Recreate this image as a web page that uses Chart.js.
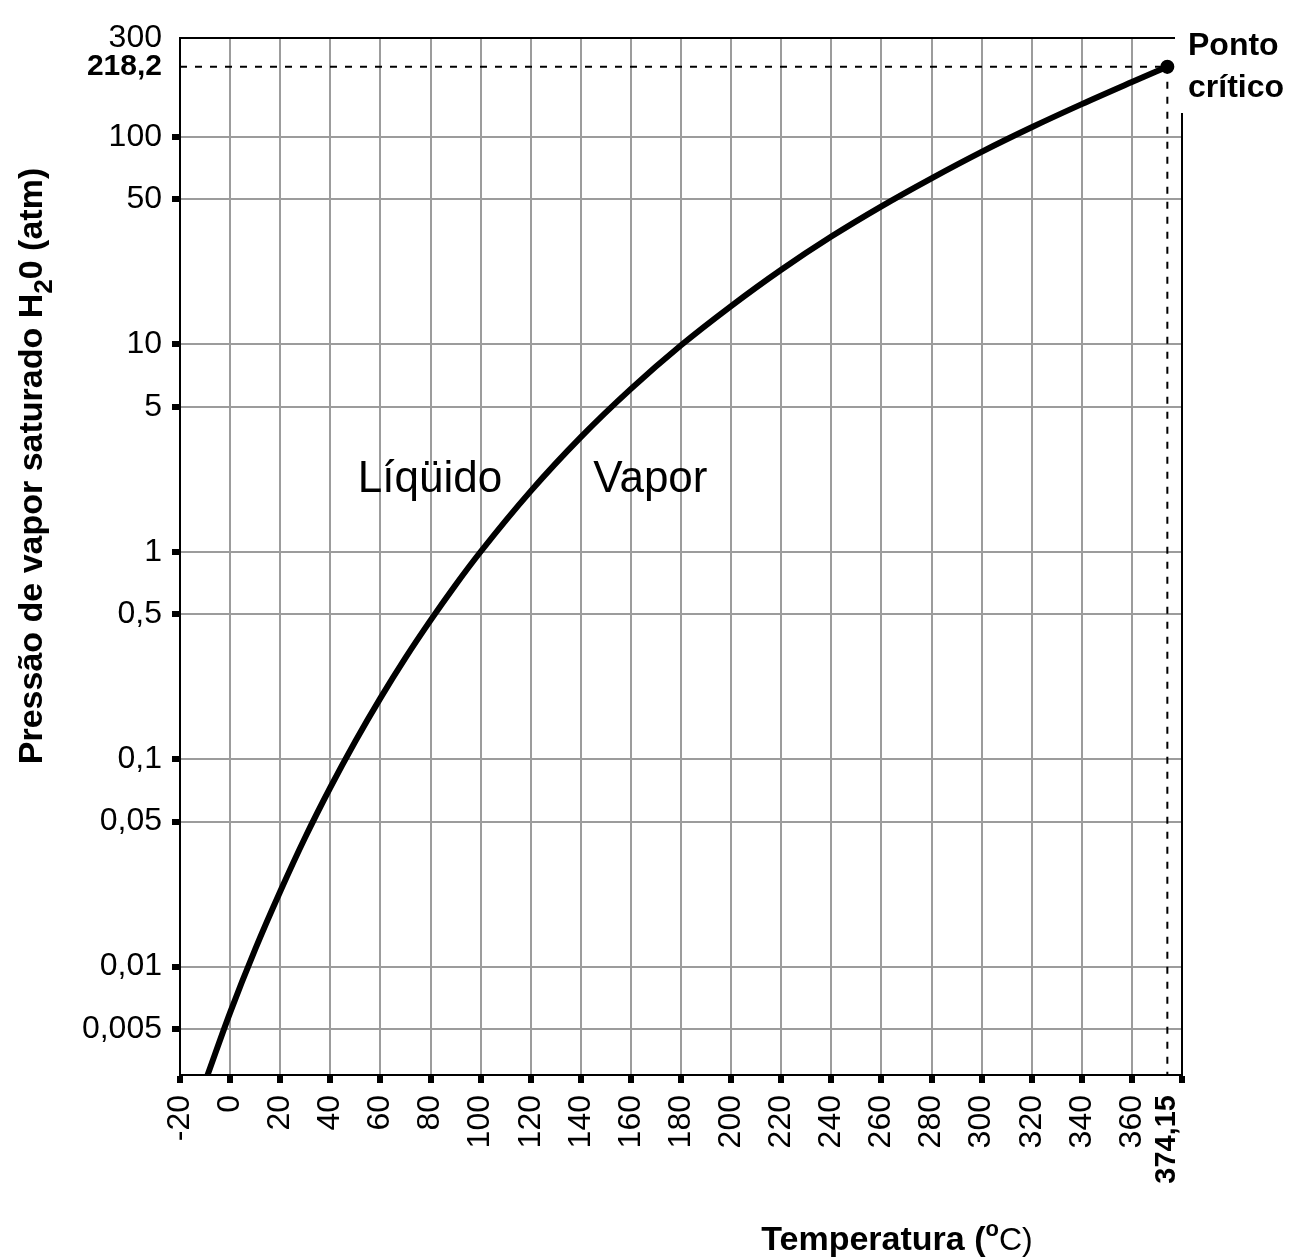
<!DOCTYPE html>
<html lang="pt">
<head>
<meta charset="utf-8">
<title>Pressão de vapor saturado da água</title>
<script src="https://cdn.jsdelivr.net/npm/chart.js@4.4.1/dist/chart.umd.min.js"></script>
<style>
  html, body { margin: 0; padding: 0; background: #fff; }
  canvas { display: block; }
</style>
</head>
<body>
<canvas id="grafico" width="1291" height="1257"></canvas>
<script>
// --- DADOS ---
const temperaturas = [-9, 0, 10, 20, 30, 40, 50, 60, 70, 80, 90, 100, 120, 140, 160, 180, 200, 220, 240, 260, 280, 300, 320, 340, 360, 374.15];
const pressoes = [0.003, 0.006, 0.0121, 0.023, 0.042, 0.073, 0.122, 0.197, 0.308, 0.467, 0.692, 1.0, 1.96, 3.57, 6.1, 9.9, 15.3, 22.9, 33.1, 46.3, 63.2, 84.8, 111.4, 144, 184, 218.2];
const ticksX = [-20, 0, 20, 40, 60, 80, 100, 120, 140, 160, 180, 200, 220, 240, 260, 280, 300, 320, 340, 360, 374.15, 380];
const ticksY = [0.005, 0.01, 0.05, 0.1, 0.5, 1, 5, 10, 50, 100, 218.2, 300];
const pontoCritico = { t: 374.15, p: 218.2 };

const fonte = '"Liberation Sans", Arial, sans-serif';
const cinza = '#9c9c9c';

const formatar = (v) => String(v).replace('.', ',');

// --- TEXTOS, BORDAS E LINHAS TRACEJADAS ---
const anotacoes = {
  id: 'anotacoes',
  beforeDatasetsDraw(chart) {
    const { ctx, chartArea: area, scales: { x, y } } = chart;
    const px = x.getPixelForValue(pontoCritico.t);
    const py = y.getPixelForValue(pontoCritico.p);
    ctx.save();
    ctx.strokeStyle = '#000';
    ctx.lineWidth = 2;
    ctx.beginPath();
    ctx.moveTo(area.left, area.top);
    ctx.lineTo(area.right - 7, area.top);
    ctx.moveTo(area.right, area.top + 75);
    ctx.lineTo(area.right, area.bottom);
    ctx.stroke();

    ctx.setLineDash([7, 8]);
    ctx.beginPath();
    ctx.moveTo(area.left, py);
    ctx.lineTo(px, py);
    ctx.moveTo(px, py);
    ctx.lineTo(px, area.bottom);
    ctx.stroke();
    ctx.restore();
  },
  afterDraw(chart) {
    const { ctx, chartArea: area, scales: { x, y } } = chart;
    ctx.save();
    ctx.fillStyle = '#000';
    ctx.textBaseline = 'alphabetic';
    ctx.textAlign = 'left';

    // rótulos dentro do gráfico
    ctx.font = '44px ' + fonte;
    ctx.fillText('Líqüido', x.getPixelForValue(51), y.getPixelForValue(1.95));
    ctx.fillText('Vapor', x.getPixelForValue(145), y.getPixelForValue(1.95));

    // ponto crítico
    ctx.font = 'bold 32px ' + fonte;
    ctx.fillText('Ponto', area.right + 6, 55);
    ctx.fillText('crítico', area.right + 6, 97);

    // título do eixo y (rotacionado)
    ctx.save();
    ctx.translate(42, 466);
    ctx.rotate(-Math.PI / 2);
    const partesY = [
      { t: 'Pressão de vapor saturado H', f: 'bold 34px ' + fonte, dy: 0 },
      { t: '2', f: 'bold 26px ' + fonte, dy: 10 },
      { t: '0 (atm)', f: 'bold 34px ' + fonte, dy: 0 },
    ];
    let totalY = 0;
    partesY.forEach((p) => { ctx.font = p.f; p.w = ctx.measureText(p.t).width; totalY += p.w; });
    let cx = -totalY / 2;
    partesY.forEach((p) => { ctx.font = p.f; ctx.fillText(p.t, cx, p.dy); cx += p.w; });
    ctx.restore();

    // título do eixo x
    const partesX = [
      { t: 'Temperatura (', f: 'bold 34px ' + fonte, dy: 0 },
      { t: 'o', f: 'bold 22px ' + fonte, dy: -14 },
      { t: 'C)', f: '32px ' + fonte, dy: 0 },
    ];
    let totalX = 0;
    partesX.forEach((p) => { ctx.font = p.f; p.w = ctx.measureText(p.t).width; totalX += p.w; });
    let tx = 897 - totalX / 2;
    partesX.forEach((p) => { ctx.font = p.f; ctx.fillText(p.t, tx, 1250 + p.dy); tx += p.w; });

    ctx.restore();
  },
};

// --- GRÁFICO ---
const grafico = new Chart(document.getElementById('grafico'), {
  type: 'line',
  data: {
    datasets: [
      {
        label: 'Pressão de vapor',
        data: temperaturas.map((t, i) => ({ x: t, y: pressoes[i] })),
        borderColor: '#000',
        backgroundColor: '#000',
        borderWidth: 6,
        cubicInterpolationMode: 'monotone',
        pointRadius: (c) => (c.dataIndex === temperaturas.length - 1 ? 4 : 0),
        pointHoverRadius: 0,
        fill: false,
      },
    ],
  },
  options: {
    responsive: false,
    animation: false,
    events: [],
    layout: { padding: { top: 38, right: 109, bottom: 0, left: 0 } },
    plugins: {
      legend: { display: false },
      tooltip: { enabled: false },
      title: { display: false },
    },
    scales: {
      x: {
        type: 'linear',
        min: -20,
        max: 380,
        bounds: 'data',
        afterBuildTicks: (s) => { s.ticks = ticksX.map((v) => ({ value: v })); },
        afterFit: (s) => { s.height = 182; },
        border: { display: true, color: '#000', width: 2 },
        grid: {
          color: (c) => ([-20, 374.15, 380].includes(c.tick && c.tick.value) ? 'rgba(0,0,0,0)' : cinza),
          lineWidth: 2,
          tickColor: (c) => (c.tick && c.tick.value === 374.15 ? 'rgba(0,0,0,0)' : '#000'),
          tickLength: 8,
          tickWidth: 6,
        },
        ticks: {
          autoSkip: false,
          minRotation: 90,
          maxRotation: 90,
          padding: 12,
          color: '#000',
          font: (c) => (c.tick && c.tick.value === 374.15
            ? { family: fonte, size: 29, weight: 'bold' }
            : { family: fonte, size: 32, weight: 'normal' }),
          callback: (v) => (v === 380 ? '' : formatar(v)),
        },
      },
      y: {
        type: 'logarithmic',
        min: 0.003,
        max: 300,
        afterBuildTicks: (s) => { s.ticks = ticksY.map((v) => ({ value: v })); },
        afterFit: (s) => { s.width = 180; },
        border: { display: true, color: '#000', width: 2 },
        grid: {
          color: (c) => ([218.2, 300].includes(c.tick && c.tick.value) ? 'rgba(0,0,0,0)' : cinza),
          lineWidth: 2,
          tickColor: (c) => ([218.2, 300].includes(c.tick && c.tick.value) ? 'rgba(0,0,0,0)' : '#000'),
          tickLength: 8,
          tickWidth: 6,
        },
        ticks: {
          padding: 10,
          color: '#000',
          font: (c) => (c.tick && c.tick.value === 218.2
            ? { family: fonte, size: 30, weight: 'bold' }
            : { family: fonte, size: 32, weight: 'normal' }),
          callback: (v) => formatar(v),
        },
      },
    },
  },
  plugins: [anotacoes],
});
</script>
</body>
</html>
